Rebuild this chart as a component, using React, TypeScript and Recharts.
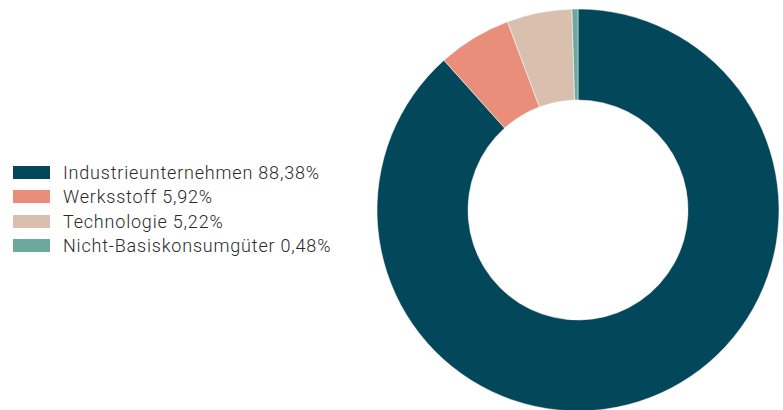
import React from 'react';
import { PieChart, Pie, Cell, Legend } from 'recharts';

const sectors = ['Industrieunternehmen', 'Werksstoff', 'Technologie', 'Nicht-Basiskonsumgüter'];
const shares = [88.38, 5.92, 5.22, 0.48];
const colors = ['#02475a', '#e88e7b', '#d9bfae', '#6da89e'];

const data = sectors.map((name, i) => ({ name, value: shares[i] }));

const fmt = (v: number) => v.toFixed(2).replace('.', ',') + '%';

const SectorLegend = () => (
    <div style={{ fontFamily: 'Roboto, sans-serif', fontWeight: 300, fontSize: 18, letterSpacing: 0.8, color: '#2a2a2a' }}>
        {data.map((d, i) => (
            <div key={d.name} style={{ display: 'flex', alignItems: 'center', height: 24.5 }}>
                <span style={{ display: 'inline-block', width: 37, height: 13, background: colors[i], marginRight: 13 }} />
                <span>{d.name} {fmt(d.value)}</span>
            </div>
        ))}
    </div>
);

const App: React.FC = () => {
    return (
        <div style={{ position: 'absolute', left: 0, top: 0, width: 783, height: 410, background: '#fff' }}>
            <PieChart width={783} height={410} margin={{ top: 0, right: 0, bottom: 0, left: 0 }}>
                <Pie
                    data={data}
                    dataKey="value"
                    nameKey="name"
                    cx={578}
                    cy={210}
                    innerRadius={110}
                    outerRadius={201}
                    startAngle={90}
                    endAngle={-270}
                    stroke="#fff"
                    strokeWidth={0.5}
                    isAnimationActive={false}
                >
                    {data.map((d, i) => (
                        <Cell key={d.name} fill={colors[i]} />
                    ))}
                </Pie>
                <Legend
                    content={<SectorLegend />}
                    wrapperStyle={{ position: 'absolute', left: 13, top: 160, width: 360 }}
                />
            </PieChart>
        </div>
    );
};

export default App;
